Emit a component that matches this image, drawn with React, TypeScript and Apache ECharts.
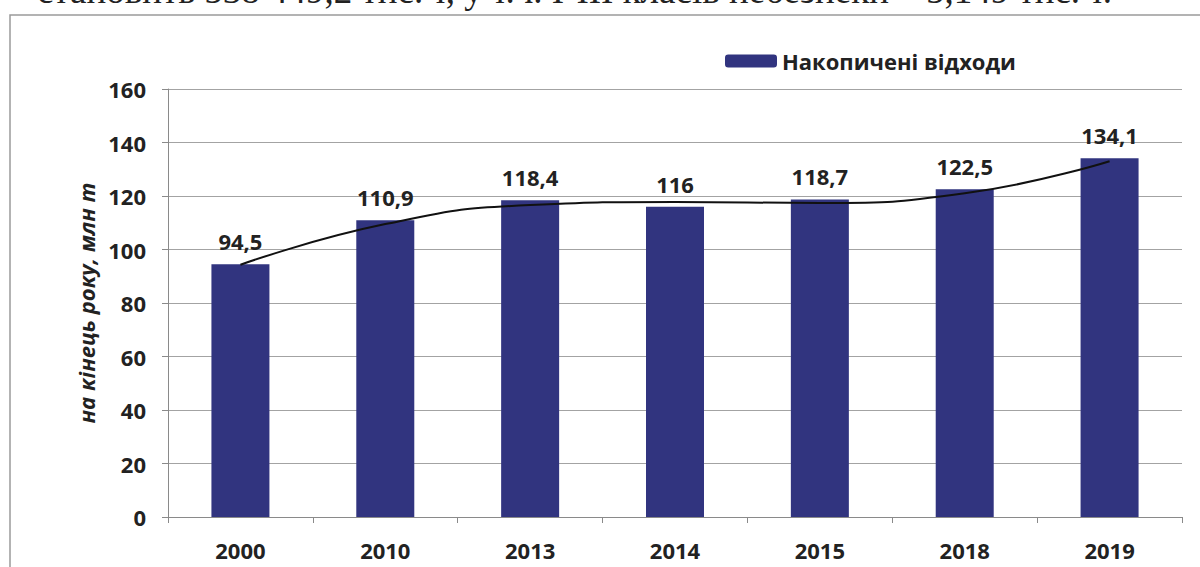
import React, { useEffect, useRef } from "react";
import * as echarts from "echarts";

const categories = ["2000", "2010", "2013", "2014", "2015", "2018", "2019"];
const wasteValues = [94.5, 110.9, 118.4, 116, 118.7, 122.5, 134.1];
const trendValues = [94.3, 109.5, 116.6, 117.8, 117.4, 121.0, 133.0];
const yTicks = { min: 0, max: 160, interval: 20 };
const seriesName = "Накопичені відходи";
const yAxisName = "на кінець року, млн т";
const topText = "становить 538 449,2 тис. т, у т.ч. І-ІІІ класів небезпеки – 5,149 тис. т.";

const FONT = "'Open Sans', 'DejaVu Sans', sans-serif";

export default function App() {
  const ref = useRef<HTMLDivElement>(null);
  useEffect(() => {
    if (!ref.current) return;
    const chart = echarts.init(ref.current, null, { renderer: "svg" });
    chart.setOption({
      animation: false,
      backgroundColor: "#ffffff",
      textStyle: { fontFamily: FONT },
      graphic: [
        {
          type: "rect",
          shape: { x: 10, y: 15, width: 1300, height: 700 },
          style: { fill: "none", stroke: "#9a9a9a", lineWidth: 1.5 },
          silent: true,
        },
        {
          type: "text",
          x: 1112,
          y: -10,
          style: {
            text: topText,
            fontFamily: "'Liberation Serif', 'DejaVu Serif', serif",
            fontSize: 37,
            fill: "#222",
            align: "right",
            verticalAlign: "middle",
          },
          silent: true,
        },
      ],
      legend: {
        data: [seriesName],
        left: 720,
        top: 45,
        itemWidth: 52,
        itemHeight: 13,
        itemGap: 10,
        textStyle: { fontFamily: FONT, fontWeight: "bold", fontSize: 22, color: "#222", padding: [0, 0, 0, 0] },
      },
      grid: { left: 168, right: 18, top: 89, bottom: 50, containLabel: false },
      xAxis: {
        type: "category",
        data: categories,
        boundaryGap: true,
        axisLine: { show: true, lineStyle: { color: "#8a8a8a", width: 1 } },
        axisTick: { show: true, length: 6, lineStyle: { color: "#8a8a8a" } },
        axisLabel: { fontFamily: FONT, fontWeight: "bold", fontSize: 22, color: "#222", margin: 22 },
        splitLine: { show: false },
      },
      yAxis: {
        type: "value",
        min: yTicks.min,
        max: yTicks.max,
        interval: yTicks.interval,
        name: yAxisName,
        nameLocation: "middle",
        nameGap: 70,
        nameRotate: 90,
        nameTextStyle: { fontFamily: FONT, fontWeight: "bold", fontStyle: "italic", fontSize: 22, color: "#222" },
        axisLine: { show: true, lineStyle: { color: "#8a8a8a", width: 1 } },
        axisTick: { show: true, length: 6, lineStyle: { color: "#8a8a8a" } },
        axisLabel: { fontFamily: FONT, fontWeight: "bold", fontSize: 22, color: "#222", margin: 22 },
        splitLine: { show: true, lineStyle: { color: "#a3a3a3", width: 1.2 } },
      },
      series: [
        {
          name: seriesName,
          type: "bar",
          data: wasteValues,
          barWidth: 58,
          itemStyle: { color: "#31347f" },
          label: {
            show: true,
            position: "top",
            distance: 12,
            fontFamily: FONT,
            fontWeight: "bold",
            fontSize: 22,
            color: "#222",
            formatter: (p: any) => String(p.value).replace(".", ","),
          },
          z: 2,
        },
        {
          name: "trend",
          type: "line",
          data: trendValues,
          smooth: 0.5,
          symbol: "none",
          lineStyle: { color: "#111111", width: 2 },
          z: 3,
          silent: true,
        },
      ],
    });
    return () => chart.dispose();
  }, []);
  return (
    <div
      ref={ref}
      style={{ position: "fixed", left: 0, top: 0, width: 1200, height: 567, background: "#fff" }}
    />
  );
}
